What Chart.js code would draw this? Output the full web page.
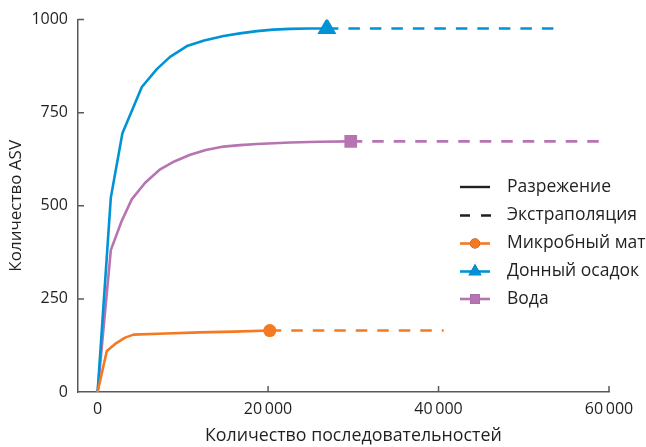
<!DOCTYPE html>
<html>
<head>
<meta charset="utf-8">
<script src="https://cdn.jsdelivr.net/npm/chart.js@4"></script>
<style>
  html, body { margin: 0; padding: 0; background: #fff; }
  #wrap { width: 646px; height: 447px; position: relative; }
</style>
</head>
<body>
<div id="wrap"><canvas id="c"></canvas></div>
<script>
// Series names
const seriesNames = ['Микробный мат', 'Донный осадок', 'Вода'];
const lineTypeNames = ['Разрежение', 'Экстраполяция'];

// Rarefaction curves (sequences -> ASV count); last point = observed sample
const matX   = [0, 1080, 2055, 3230, 4205, 8000, 12000, 16000, 20200];
const matY   = [0, 110, 129, 146, 154, 157, 160, 162, 165];
const sedX   = [0, 1550, 2910, 5190, 6950, 8500, 10480, 12500, 14780, 16700, 18700, 20600, 22600, 24700, 26900];
const sedY   = [0, 522, 695, 819, 867, 900, 929, 944, 956, 963, 969, 973, 975, 976, 976];
const waterX = [0, 1550, 2800, 4020, 5580, 7340, 9000, 10860, 12700, 14780, 16700, 18700, 22600, 26000, 29700];
const waterY = [0, 381, 458, 518, 562, 598, 619, 637, 650, 659, 663, 666, 670, 672, 673];

// Extrapolated parts
const matExtX   = [20200, 40600];
const matExtY   = [165, 165];
const sedExtX   = [26900, 53700];
const sedExtY   = [976, 976];
const waterExtX = [29700, 59000];
const waterExtY = [673, 673];

// Axis ticks
const xTicks = [0, 20000, 40000, 60000];
const xTickLabels = ['0', '20\u2009000', '40\u2009000', '60\u2009000'];
const yTicks = [0, 250, 500, 750, 1000];
const yTickLabels = ['0', '250', '500', '750', '1000'];

const xTitle = 'Количество последовательностей';
const yTitle = 'Количество ASV';

const colors = ['#F47920', '#0093D6', '#B674B3'];
const styles = ['circle', 'triangle', 'rect'];
const radii = [6.5, 11, 9];
const legendRadii = [5, 7.5, 7];
const axisColor = '#58595b';
const textColor = '#231f20';
const FONT = "'Open Sans', 'Noto Sans', sans-serif";

const pts = (xs, ys) => xs.map((x, i) => ({ x, y: ys[i] }));

const observed = [pts(matX, matY), pts(sedX, sedY), pts(waterX, waterY)];
const extrap = [pts(matExtX, matExtY), pts(sedExtX, sedExtY), pts(waterExtX, waterExtY)];

const datasets = [];
observed.forEach((d, k) => {
  datasets.push({
    label: seriesNames[k],
    data: d,
    borderColor: colors[k],
    backgroundColor: colors[k],
    borderWidth: 2.6,
    tension: 0,
    borderJoinStyle: 'round',
    pointStyle: styles[k],
    pointRadius: c => (c.dataIndex === d.length - 1 ? radii[k] : 0),
    pointBackgroundColor: colors[k],
    pointBorderWidth: 0,
    order: 1
  });
});
extrap.forEach((d, k) => {
  datasets.push({
    label: seriesNames[k] + ' (экстр.)',
    data: d,
    borderColor: colors[k],
    borderWidth: 2.6,
    borderDash: [11.5, 10],
    pointRadius: 0,
    order: 2
  });
});

// Tick marks pointing into the plot area
const innerTicks = {
  id: 'innerTicks',
  beforeDatasetsDraw(chart) {
    const { ctx, scales: { x, y }, chartArea: a } = chart;
    ctx.save();
    ctx.strokeStyle = axisColor;
    ctx.lineWidth = 1.5;
    ctx.beginPath();
    xTicks.forEach(v => {
      if (v === 0) return;
      const px = x.getPixelForValue(v);
      ctx.moveTo(px, a.bottom);
      ctx.lineTo(px, a.bottom - 6);
    });
    yTicks.forEach(v => {
      if (v === 0) return;
      const py = y.getPixelForValue(v);
      ctx.moveTo(a.left, py);
      ctx.lineTo(a.left + 6, py);
    });
    ctx.stroke();
    ctx.restore();
  }
};

// Horizontal axis title, centred under the range of the plotted values
const xAxisTitle = {
  id: 'xAxisTitle',
  afterDraw(chart) {
    const { ctx, scales: { x } } = chart;
    const cx = (x.getPixelForValue(0) + x.getPixelForValue(60000)) / 2;
    ctx.save();
    ctx.font = '17.8px ' + FONT;
    ctx.fillStyle = textColor;
    ctx.textAlign = 'center';
    ctx.textBaseline = 'middle';
    ctx.fillText(xTitle, cx, x.bottom - 11);
    ctx.restore();
  }
};

// Legend: line types, then series with their markers
const sideLegend = {
  id: 'sideLegend',
  afterDraw(chart) {
    const ctx = chart.ctx;
    const x0 = 460, x1 = 490, tx = 507;
    const rows = [187, 215.5, 243.5, 271.5, 299];
    ctx.save();
    ctx.font = '17.5px ' + FONT;
    ctx.textBaseline = 'middle';
    ctx.textAlign = 'left';
    ctx.lineWidth = 2.4;
    // solid
    ctx.strokeStyle = textColor;
    ctx.beginPath(); ctx.moveTo(x0, rows[0]); ctx.lineTo(x1, rows[0]); ctx.stroke();
    // dashed
    ctx.setLineDash([10, 11]);
    ctx.beginPath(); ctx.moveTo(x0, rows[1]); ctx.lineTo(x1 + 1, rows[1]); ctx.stroke();
    ctx.setLineDash([]);
    ctx.fillStyle = textColor;
    ctx.fillText(lineTypeNames[0], tx, rows[0]);
    ctx.fillText(lineTypeNames[1], tx, rows[1]);
    seriesNames.forEach((name, k) => {
      const yy = rows[k + 2];
      ctx.strokeStyle = colors[k];
      ctx.lineWidth = 2.6;
      ctx.beginPath(); ctx.moveTo(x0, yy); ctx.lineTo(x1, yy); ctx.stroke();
      Chart.helpers.drawPoint(ctx, {
        pointStyle: styles[k], radius: legendRadii[k], rotation: 0, borderWidth: 0
      }, (x0 + x1) / 2, yy);
      ctx.fillStyle = colors[k];
      ctx.fill();
      ctx.fillStyle = textColor;
      ctx.fillText(name, tx, yy);
    });
    ctx.restore();
  }
};

new Chart(document.getElementById('c'), {
  type: 'line',
  data: { datasets },
  plugins: [innerTicks, xAxisTitle, sideLegend],
  options: {
    responsive: true,
    maintainAspectRatio: false,
    animation: false,
    events: [],
    layout: { padding: { top: 15, right: 37, left: 0, bottom: 0 } },
    plugins: { legend: { display: false }, tooltip: { enabled: false } },
    scales: {
      x: {
        type: 'linear',
        min: -2300,
        max: 60000,
        afterBuildTicks: s => { s.ticks = xTicks.map(v => ({ value: v })); },
        afterFit: s => { s.height = 55; },
        ticks: {
          callback: (v, i) => xTickLabels[i],
          font: { family: FONT, size: 16 },
          color: textColor,
          padding: 8,
          maxRotation: 0
        },
        grid: { display: false, drawTicks: false },
        border: { display: true, color: axisColor, width: 1.5 },
        title: { display: false }
      },
      y: {
        type: 'linear',
        min: 0,
        max: 1000,
        afterBuildTicks: s => { s.ticks = yTicks.map(v => ({ value: v })); },
        afterFit: s => { s.width = 78; },
        ticks: {
          callback: (v, i) => yTickLabels[i],
          font: { family: FONT, size: 16 },
          color: textColor,
          padding: 10
        },
        grid: { display: false, drawTicks: false },
        border: { display: true, color: axisColor, width: 1.5 },
        title: {
          display: true,
          text: yTitle,
          font: { family: FONT, size: 17 },
          color: textColor,
          padding: { top: 6, bottom: 0 }
        }
      }
    }
  }
});
</script>
</body>
</html>
